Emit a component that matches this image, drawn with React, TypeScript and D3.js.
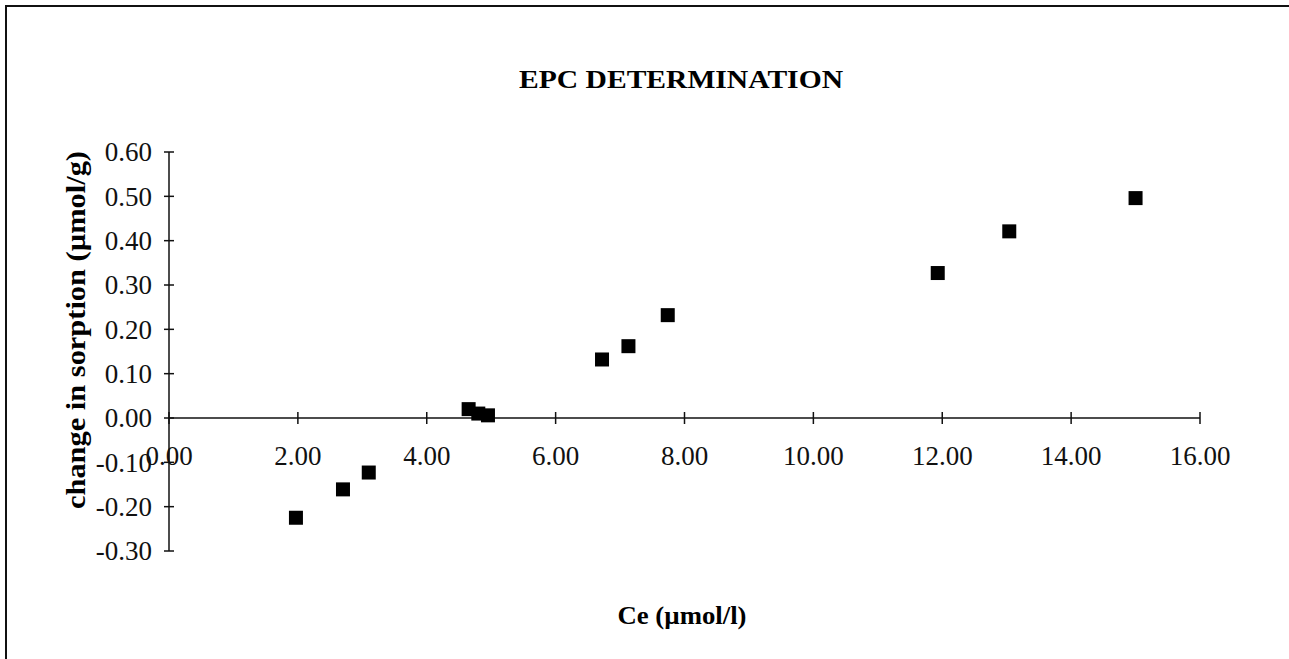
import * as d3 from "d3";
import { useEffect, useRef } from "react";

// Ce (µmol/l) and change in sorption (µmol/g)
const ceValues = [1.97, 2.7, 3.1, 4.65, 4.8, 4.95, 6.72, 7.13, 7.74, 11.93, 13.04, 15.0];
const sorptionValues = [-0.225, -0.161, -0.123, 0.02, 0.01, 0.006, 0.132, 0.162, 0.232, 0.327, 0.421, 0.496];

const xTicks = [0, 2, 4, 6, 8, 10, 12, 14, 16];
const yTicks = [-0.3, -0.2, -0.1, 0, 0.1, 0.2, 0.3, 0.4, 0.5, 0.6];

const title = "EPC DETERMINATION";
const xLabel = "Ce (µmol/l)";
const yLabel = "change in sorption (µmol/g)";

const W = 1289;
const H = 659;
const font = "'Liberation Serif', 'Times New Roman', serif";

// excel style, plain hyphen for negatives
const fmt = (d: number) => d3.format(".2f")(d).replace("\u2212", "-");

export default function App() {
  const ref = useRef<SVGSVGElement>(null);

  useEffect(() => {
    const svg = d3.select(ref.current);
    svg.selectAll("*").remove();

    const x = d3.scaleLinear().domain([0, 16]).range([169, 1200]);
    const y = d3.scaleLinear().domain([-0.3, 0.6]).range([551, 152]);

    // frame (left + top edges show in the scan)
    svg
      .append("path")
      .attr("d", `M6,${H} L6,6 L${W},6`)
      .attr("fill", "none")
      .attr("stroke", "#111")
      .attr("stroke-width", 2);

    svg
      .append("text")
      .attr("x", 681)
      .attr("y", 88)
      .attr("text-anchor", "middle")
      .attr("font-family", font)
      .attr("font-weight", "bold")
      .attr("font-size", 26)
      .attr("textLength", 324)
      .attr("lengthAdjust", "spacingAndGlyphs")
      .text(title);

    const axes = svg.append("g").attr("stroke", "#111").attr("stroke-width", 1.5);

    // y axis
    axes
      .append("line")
      .attr("x1", x(0))
      .attr("x2", x(0))
      .attr("y1", y(0.6))
      .attr("y2", y(-0.3));
    axes
      .selectAll("line.yt")
      .data(yTicks)
      .join("line")
      .attr("class", "yt")
      .attr("x1", x(0) - 5)
      .attr("x2", x(0) + 5)
      .attr("y1", (d) => y(d))
      .attr("y2", (d) => y(d));

    // x axis at y = 0
    axes
      .append("line")
      .attr("x1", x(0))
      .attr("x2", x(16))
      .attr("y1", y(0))
      .attr("y2", y(0));
    axes
      .selectAll("line.xt")
      .data(xTicks)
      .join("line")
      .attr("class", "xt")
      .attr("x1", (d) => x(d))
      .attr("x2", (d) => x(d))
      .attr("y1", y(0) - 6)
      .attr("y2", y(0) + 6);

    const labels = svg.append("g").attr("font-family", font).attr("font-size", 27).attr("fill", "#111");

    labels
      .selectAll("text.xl")
      .data(xTicks)
      .join("text")
      .attr("class", "xl")
      .attr("x", (d) => x(d))
      .attr("y", 465)
      .attr("text-anchor", "middle")
      .text(fmt);

    labels
      .selectAll("text.yl")
      .data(yTicks)
      .join("text")
      .attr("class", "yl")
      .attr("x", 152)
      .attr("y", (d) => y(d))
      .attr("dy", "0.35em")
      .attr("text-anchor", "end")
      .text(fmt);

    svg
      .append("text")
      .attr("x", 682)
      .attr("y", 624)
      .attr("text-anchor", "middle")
      .attr("font-family", font)
      .attr("font-weight", "bold")
      .attr("font-size", 26)
      .attr("textLength", 129)
      .attr("lengthAdjust", "spacingAndGlyphs")
      .text(xLabel);

    svg
      .append("text")
      .attr("transform", "translate(85,330) rotate(-90)")
      .attr("text-anchor", "middle")
      .attr("font-family", font)
      .attr("font-weight", "bold")
      .attr("font-size", 27)
      .attr("textLength", 358)
      .attr("lengthAdjust", "spacingAndGlyphs")
      .text(yLabel);

    const pts = d3.zip(ceValues, sorptionValues);
    const s = 14;
    svg
      .append("g")
      .selectAll("rect")
      .data(pts)
      .join("rect")
      .attr("x", (d) => x(d[0]) - s / 2)
      .attr("y", (d) => y(d[1]) - s / 2)
      .attr("width", s)
      .attr("height", s)
      .attr("fill", "#000");
  }, []);

  return (
    <svg
      ref={ref}
      width={W}
      height={H}
      style={{ position: "absolute", left: 0, top: 0, background: "#fff" }}
    />
  );
}
